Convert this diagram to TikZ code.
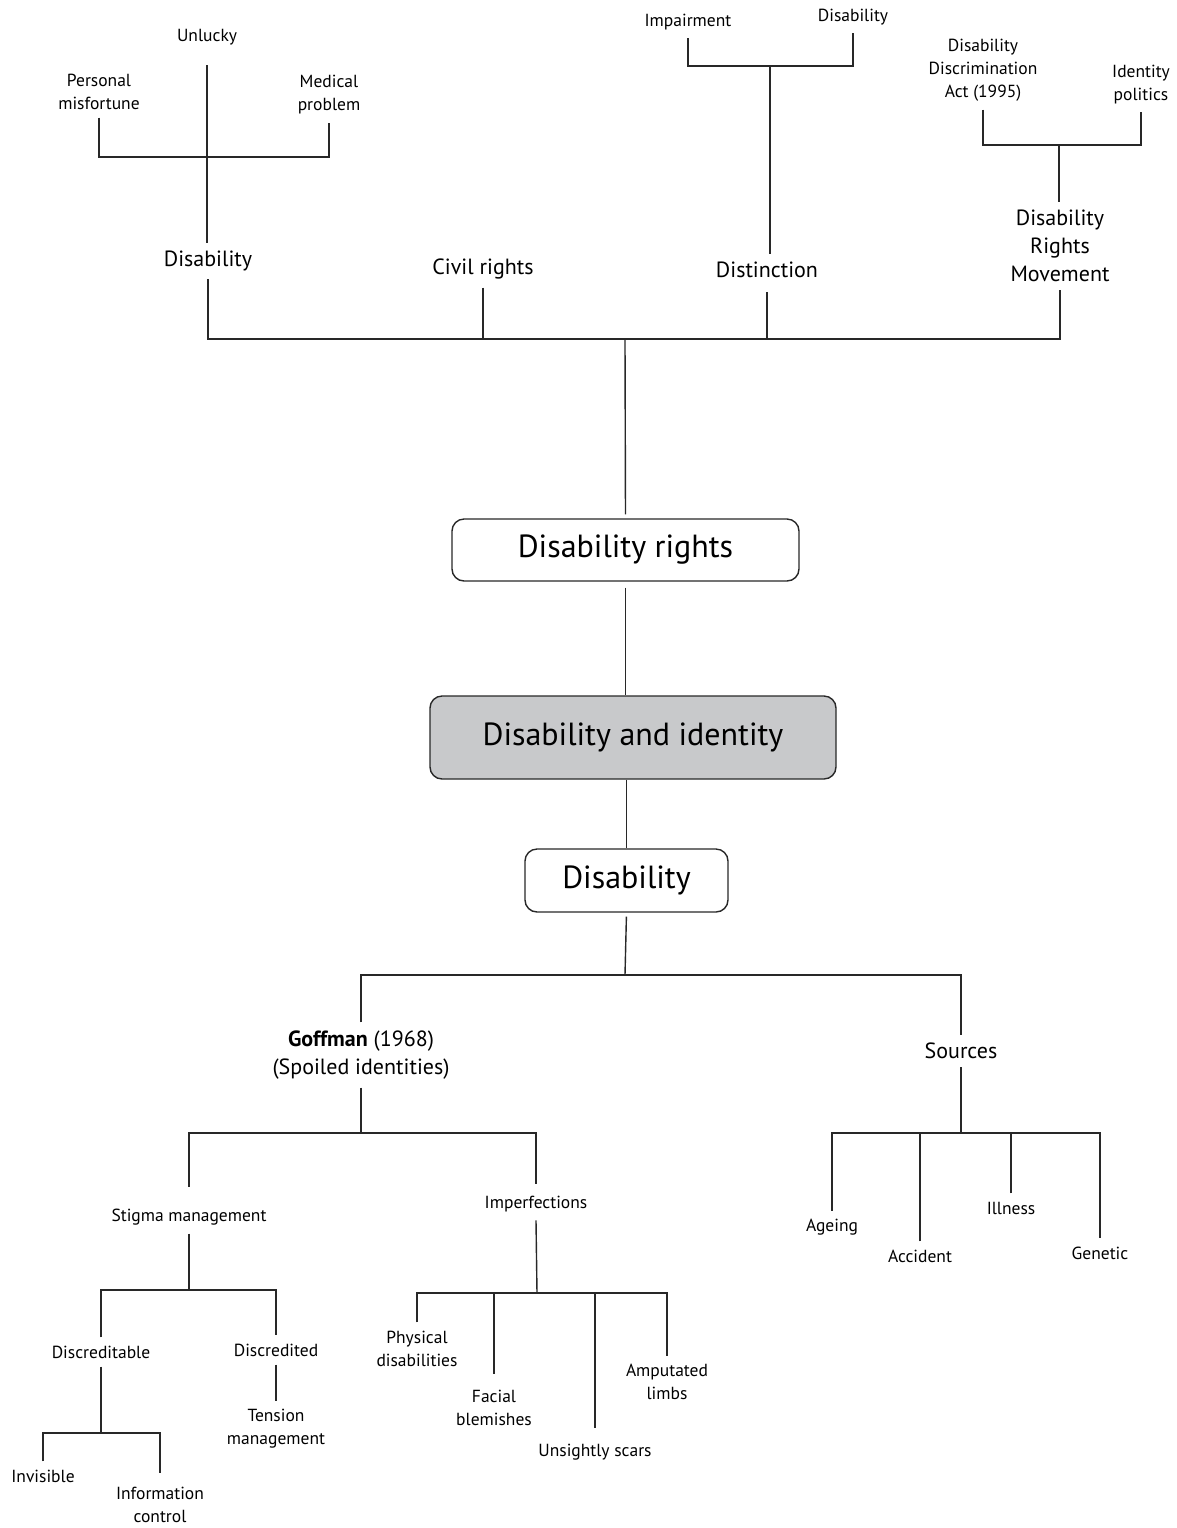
\documentclass[tikz,border=0pt]{standalone}
\usepackage{fontspec}
\setmainfont{PT Sans}
\usepackage{tikz}
\usepackage{xcolor}
\definecolor{boxgray}{RGB}{200,201,203}
\definecolor{linegray}{RGB}{40,40,40}

\begin{document}
\begin{tikzpicture}[
    x=0.5pt, y=-0.5pt,
    small/.style={align=center, inner sep=4pt, font=\fontsize{8.75}{11.5}\selectfont},
    mid/.style={align=center, inner sep=4pt, font=\fontsize{11}{14}\selectfont},
    box/.style={draw=linegray, line width=0.7pt, rounded corners=6pt, font=\fontsize{16}{19}\selectfont},
    link/.style={draw=linegray, line width=0.7pt}
]
\useasboundingbox (0,0) rectangle (1177,1528);

% Top: disability, civil rights, distinction, movement
\node[small] (unlucky) at (207,37) {Unlucky};
\node[small] (misfort) at (99,91.5) {Personal\\misfortune};
\node[small] (medical) at (329,95) {Medical\\problem};
\node[mid] (disab) at (208,261) {Disability};
\node[mid] (civil) at (483,269) {Civil rights};
\node[small] (impair) at (688,22) {Impairment};
\node[small] (disab2) at (853,17) {Disability};
\node[mid] (distinct) at (767,270) {Distinction};
\node[small] (dda) at (983,70) {Disability\\Discrimination\\Act (1995)};
\node[small] (idpol) at (1141,84.5) {Identity\\politics};
\node[mid] (drm) at (1060,246) {Disability\\Rights\\Movement};

\coordinate (barA) at (207,157);
\coordinate (barB) at (770,66);
\coordinate (barC) at (1059,145);
\coordinate (hub) at (625,339);

% Central boxes
\node[box, minimum width=173.5pt, minimum height=31pt] (rights) at (625.5,550) {Disability rights};
\node[box, fill=boxgray, minimum width=203pt, minimum height=41.5pt] (ident) at (633,737.5) {Disability and identity};
\node[box, minimum width=101.5pt, minimum height=31.5pt] (disbox) at (626.5,880.5) {Disability};

% Bottom: Goffman and sources
\node[mid] (goffman) at (361,1055) {\textbf{Goffman} (1968)\\(Spoiled identities)};
\node[mid] (sources) at (961,1051) {Sources};
\node[small] (stigma) at (189,1217) {Stigma management};
\node[small] (imperf) at (536,1204) {Imperfections};
\node[small] (discrtbl) at (101,1352) {Discreditable};
\node[small] (discrtd) at (276,1350) {Discredited};
\node[small] (invis) at (43,1476) {Invisible};
\node[small] (infoctl) at (160,1505) {Information\\control};
\node[small] (tension) at (276,1429) {Tension\\management};
\node[small] (physical) at (417,1348.5) {Physical\\disabilities};
\node[small] (facial) at (494,1408) {Facial\\blemishes};
\node[small] (scars) at (595,1452) {Unsightly scars};
\node[small] (amputated) at (667,1382) {Amputated\\limbs};
\node[small] (ageing) at (832,1227) {Ageing};
\node[small] (accident) at (920,1256) {Accident};
\node[small] (illness) at (1011,1208) {Illness};
\node[small] (genetic) at (1100,1253) {Genetic};

\coordinate (barD) at (625,975);
\coordinate (barE) at (361,1133);
\coordinate (barF) at (537,1293);
\coordinate (barG) at (961,1133);
\coordinate (barH) at (188,1290);
\coordinate (barI) at (101,1433);

% Connectors at the top
\draw[link] (misfort.south) |- (barA) -| (medical.south);
\draw[link, shorten <=6pt] (unlucky.south) -- (unlucky.south |- disab.north);
\draw[link] (impair.south) |- (barB) -| (disab2.south);
\draw[link] (barB) -- (barB |- distinct.north);
\draw[link] (disab.south) |- (hub) -| (drm.south);
\draw[link] (dda.south) |- (barC) -| (idpol.south);
\draw[link] (barC) -- (barC |- drm.north);
\draw[link] (civil.south) -- (civil.south |- hub);
\draw[link, shorten <=3pt] (distinct.south) -- (distinct.south |- hub);
\draw[link, shorten >=2pt] (hub) -- (rights.north);

% Connectors between the boxes
\draw[link, shorten <=3pt] (rights.south) -- (rights.south |- ident.north);
\draw[link] (disbox.north |- ident.south) -- (disbox.north);
\draw[link, shorten <=2pt] (disbox.south) -- (barD);
\draw[link] (goffman.north) |- (barD) -| (sources.north);

% Goffman branch
\draw[link] (goffman.south) -- (barE);
\draw[link, shorten <=7pt, shorten >=2pt] (stigma.north) |- (barE) -| (imperf.north);
\draw[link] (stigma.south) -- (stigma.south |- barH);
\draw[link] (discrtbl.north) |- (barH) -| (discrtd.north);
\draw[link] (discrtbl.south) -- (barI);
\draw[link, shorten >=3pt] (invis.north) |- (barI) -| (infoctl.north);
\draw[link] (discrtd.south) -- (tension.north);
\draw[link] (imperf.south) -- (barF);
\draw[link] (physical.north) |- (barF) -| (amputated.north);
\foreach \n in {facial, scars}
  \draw[link, shorten <=4pt] (\n.north) -- (\n.north |- barF);

% Sources branch
\draw[link] (sources.south) -- (barG);
\draw[link] (ageing.north) |- (barG) -| (genetic.north);
\foreach \n in {accident, illness}
  \draw[link] (\n.north) -- (\n.north |- barG);

\end{tikzpicture}
\end{document}
